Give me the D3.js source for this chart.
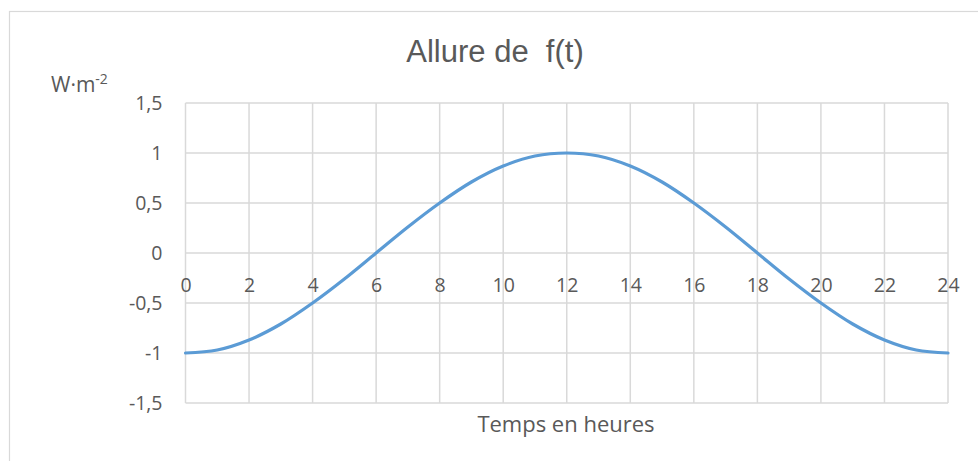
<!DOCTYPE html>
<html>
<head>
<meta charset="utf-8">
<script src="https://cdn.jsdelivr.net/npm/d3@7"></script>
<style>
  body { margin: 0; background: #fff; }
  text { font-family: "Open Sans", sans-serif; fill: #595959; }
</style>
</head>
<body>
<div id="chart"></div>
<script>
const width = 978
const height = 461

// values, one per hour
const hours = [0, 1, 2, 3, 4, 5, 6, 7, 8, 9, 10, 11, 12, 13, 14, 15, 16, 17, 18, 19, 20, 21, 22, 23, 24]
const fValues = [-1, -0.97, -0.87, -0.71, -0.5, -0.26, 0, 0.26, 0.5, 0.71, 0.87, 0.97, 1,
                 0.97, 0.87, 0.71, 0.5, 0.26, 0, -0.26, -0.5, -0.71, -0.87, -0.97, -1]
const xTicks = [0, 2, 4, 6, 8, 10, 12, 14, 16, 18, 20, 22, 24]
const yTicks = [-1.5, -1, -0.5, 0, 0.5, 1, 1.5]

const margin = { top: 103, bottom: 58, left: 185.5, right: 30 }

const svg = d3.select("#chart").append("svg").attr("width", width).attr("height", height)

// outer chart border
svg.append("rect")
    .attr("x", 9.5).attr("y", 11.5)
    .attr("width", width + 10).attr("height", height + 10)
    .attr("fill", "none").attr("stroke", "#d9d9d9").attr("stroke-width", 1.2)

const x = d3.scaleLinear().domain([0, 24]).range([margin.left, width - margin.right])
const y = d3.scaleLinear().domain([-1.5, 1.5]).range([height - margin.bottom, margin.top])

const fmt = d => String(d).replace(".", ",")

// grid
const grid = svg.append("g")
grid.selectAll(".vline").data(xTicks).enter().append("line")
    .attr("x1", d => x(d)).attr("x2", d => x(d))
    .attr("y1", y(1.5)).attr("y2", y(-1.5))
    .attr("stroke", "#d9d9d9").attr("stroke-width", 1.5)
grid.selectAll(".hline").data(yTicks).enter().append("line")
    .attr("x1", x(0)).attr("x2", x(24))
    .attr("y1", d => y(d)).attr("y2", d => y(d))
    .attr("stroke", "#d9d9d9").attr("stroke-width", 1.5)

// y axis labels
const yAxis = d3.axisLeft(y).tickValues(yTicks).tickFormat(fmt).tickSize(0).tickPadding(23)
const yAxisGroup = svg.append("g").attr("transform", `translate(${x(0)},0)`).call(yAxis)
yAxisGroup.select(".domain").remove()
yAxisGroup.selectAll("text").attr("font-size", 19.5).style("font-family", "Open Sans").attr("fill", "#595959")

// x axis labels sit under the zero line
const xAxis = d3.axisBottom(x).tickValues(xTicks).tickSize(0).tickPadding(25)
const xAxisGroup = svg.append("g").attr("transform", `translate(0,${y(0)})`).call(xAxis)
xAxisGroup.select(".domain").remove()
xAxisGroup.selectAll("text").attr("font-size", 19.5).style("font-family", "Open Sans").attr("fill", "#595959")

// curve
const line = d3.line().x((d, i) => x(hours[i])).y(d => y(d)).curve(d3.curveCatmullRom.alpha(0.5))
svg.append("path").datum(fValues)
    .attr("d", line)
    .attr("fill", "none").attr("stroke", "#5b9bd5").attr("stroke-width", 3.2)
    .attr("stroke-linecap", "round")

// titles
svg.append("text").attr("x", 495).attr("y", 62).attr("text-anchor", "middle")
    .style("font-family", "'Liberation Sans', Arial, sans-serif")
    .attr("font-size", 31).style("white-space", "pre").text("Allure de  f(t)")

const unit = svg.append("text").attr("x", 51).attr("y", 92).attr("font-size", 21)
unit.append("tspan").text("W·m")
unit.append("tspan").attr("dy", -8).attr("font-size", 14).text("-2")

svg.append("text").attr("x", 566).attr("y", 432).attr("text-anchor", "middle")
    .attr("font-size", 22).text("Temps en heures")
</script>
</body>
</html>
